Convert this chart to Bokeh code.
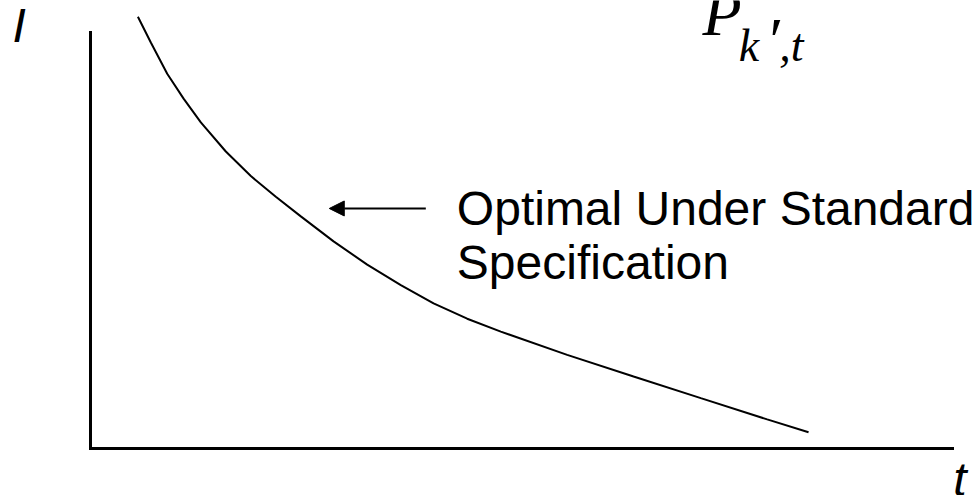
from bokeh.plotting import figure
from bokeh.models import Range1d, LinearAxis, FixedTicker, Label, Arrow, NormalHead, ColumnDataSource
from bokeh.embed import file_html
from bokeh.resources import INLINE

# ---- data (t on the horizontal axis, I on the vertical axis) ----
curve_t = [0.55, 0.70, 0.89, 1.08, 1.28, 1.57, 1.86, 2.15, 2.44, 2.82, 3.21, 3.60, 3.98,
           4.37, 4.76, 5.53, 6.30, 7.08, 7.85, 8.33]
curve_i = [10.38, 9.76, 9.01, 8.41, 7.84, 7.14, 6.55, 6.05, 5.58, 4.98, 4.42, 3.93, 3.49,
           3.12, 2.81, 2.25, 1.73, 1.21, 0.70, 0.39]

axis_max_t = 10
axis_max_i = 10

annotation_lines = ["Optimal Under Standard", "Specification"]
y_axis_name = "I"
x_axis_name = "t"
eq_main = "P"
eq_sub = ["k", "\u2032", ",t"]

W, H = 977, 495

p = figure(width=W, height=H, output_backend="svg", toolbar_location=None,
           x_axis_type=None, y_axis_type=None,
           x_range=Range1d(-1.044, 10.29), y_range=Range1d(-1.13, 10.77),
           min_border_left=0, min_border_bottom=0, min_border_top=0, min_border_right=0)
p.outline_line_color = None
p.background_fill_color = "white"
p.border_fill_color = "white"

for side, ax in (("left", LinearAxis()), ("below", LinearAxis())):
    ax.ticker = FixedTicker(ticks=[])
    ax.bounds = (0, axis_max_i if side == "left" else axis_max_t)
    ax.fixed_location = 0
    ax.axis_line_width = 3
    ax.axis_line_color = "black"
    ax.axis_line_cap = "square"
    ax.major_tick_line_color = None
    ax.minor_tick_line_color = None
    ax.major_tick_out = 0
    ax.major_tick_in = 0
    ax.major_label_standoff = 0
    ax.major_label_text_font_size = "0px"
    p.add_layout(ax, side)

src = ColumnDataSource(dict(t=curve_t, i=curve_i))
p.line("t", "i", source=src, line_color="black", line_width=2)

# arrow pointing at the curve
p.add_layout(Arrow(end=NormalHead(size=15, fill_color="black", line_color="black", line_width=1),
                   x_start=3.89, y_start=5.77, x_end=2.77, y_end=5.77,
                   line_color="black", line_width=2))

sans = "Liberation Sans"
serif = "Liberation Serif"

def lab(x, y, text, font, size, style="normal"):
    p.add_layout(Label(x=x, y=y, text=text, text_font=font, text_font_size=size,
                       text_font_style=style, text_color="black",
                       text_align="left", text_baseline="alphabetic"))

lab(4.25, 5.77, annotation_lines[0], sans, "48px")
lab(4.25, 4.47, annotation_lines[1], sans, "48px")
lab(-0.905, 10.16, y_axis_name, sans, "48px", "italic")
lab(10.01, -0.75, x_axis_name, sans, "48px", "italic")
lab(7.10, 10.46, eq_main, serif, "64px", "italic")
lab(7.52, 9.68, eq_sub[0], serif, "46px", "italic")
lab(7.83, 9.80, eq_sub[1], serif, "64px", "italic")
lab(7.99, 9.68, eq_sub[2], serif, "46px", "italic")

open("out.html", "w").write(file_html(p, INLINE))
